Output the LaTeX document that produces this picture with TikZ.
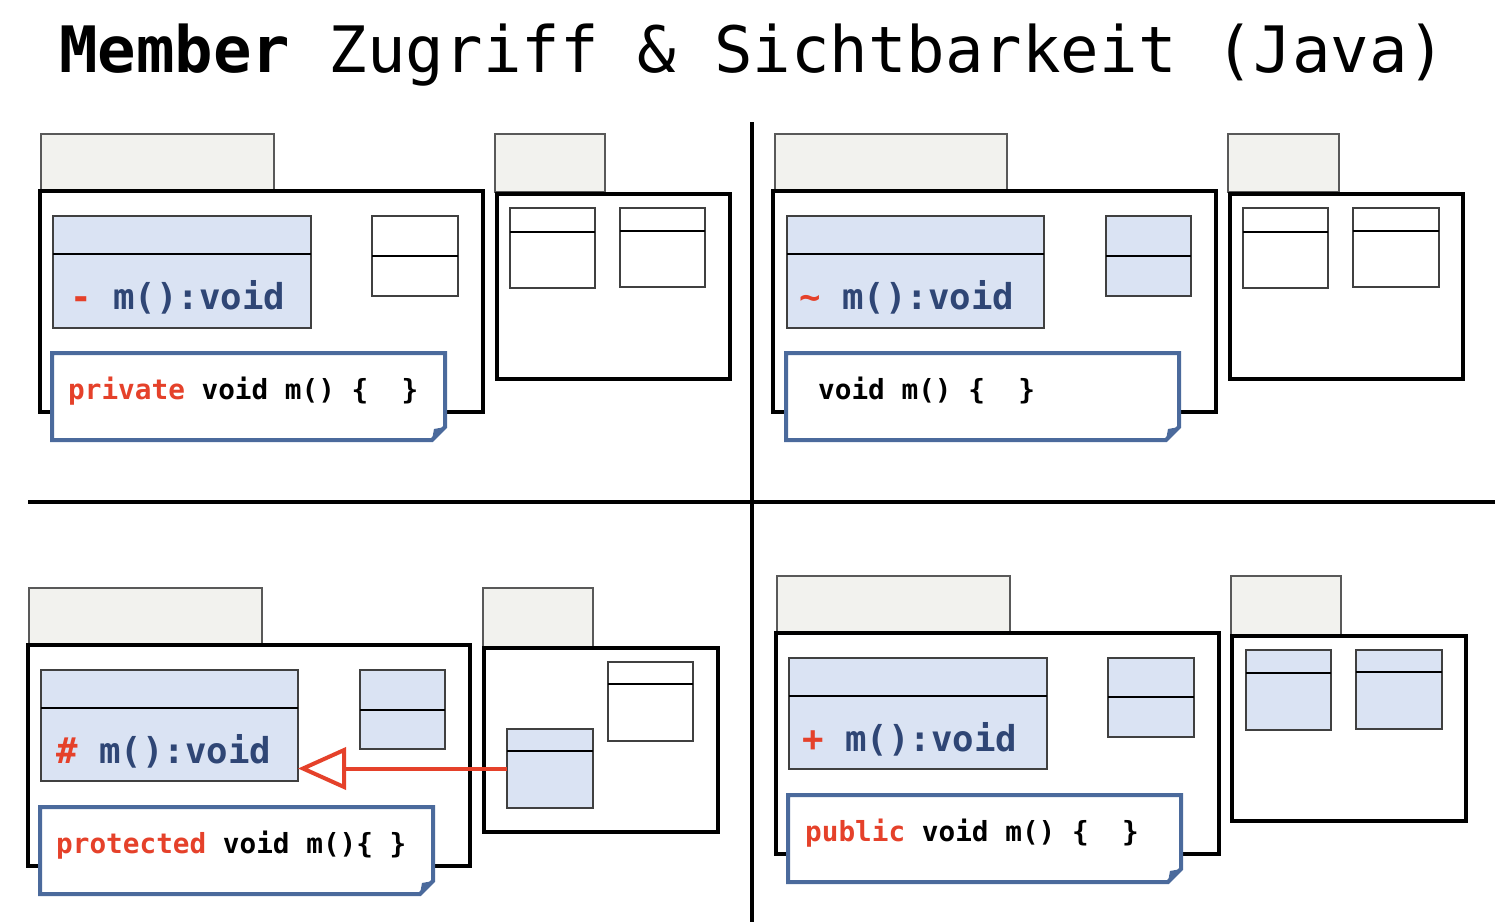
\documentclass[tikz,border=0pt]{standalone}
\usepackage{fontspec}
\setmonofont{DejaVu Sans Mono}
\usetikzlibrary{arrows.meta}
\definecolor{clsfill}{HTML}{DAE3F3}
\definecolor{tabfill}{HTML}{F2F2EE}
\definecolor{notecol}{HTML}{4B6A9C}
\definecolor{memcol}{HTML}{2F4675}
\definecolor{redc}{HTML}{E5412A}
\newcommand\umlcls[7]{%
  \node[#2, minimum width={(#5-#3)*1pt}, minimum height={(#6-#4)*1pt}, anchor=north west] (#1) at (#3,#4) {};
  \draw[divline] (#3,#7) -- (#5,#7);}
\newcommand\notebox[4]{%
  \draw[notestyle] (#1,#2) -- (#3,#2) -- (#3,#4-13) -- (#3-13,#4) -- (#1,#4) -- cycle;
  \fill[notecol] (#3-13,#4) -- (#3,#4-13) -- (#3-11,#4-11) -- cycle;}
\newcommand\pkgbox[8]{% tab x1 y1 x2 y2, box x1 y1 x2 y2
  \draw[tabstyle] (#1,#2) rectangle (#3,#4);
  \def\bx{#5}\def\by{#6}\def\bxx{#7}\def\byy{#8}%
  \draw[pkgstyle] (\bx,\by) rectangle (\bxx,\byy);}
\begin{document}
\begin{tikzpicture}[x=1pt,y=-1pt,
  tabstyle/.style={draw=black!65, fill=tabfill, line width=1.2pt},
  pkgstyle/.style={draw=black, line width=4pt, fill=white},
  cls/.style={draw=black!75, fill=clsfill, line width=1.3pt, inner sep=0pt, outer sep=0pt},
  wcls/.style={draw=black!75, fill=white, line width=1.3pt, inner sep=0pt, outer sep=0pt},
  divline/.style={draw=black, line width=2pt},
  notestyle/.style={draw=notecol, fill=white, line width=4pt, line join=miter},
  memtext/.style={anchor=base west, inner sep=0pt, font=\fontsize{35.7}{40}\ttfamily\bfseries, text=memcol},
  codetext/.style={anchor=base west, inner sep=0pt, font=\fontsize{27.7}{32}\ttfamily\bfseries, text=black},
  divider/.style={draw=black, line width=4.5pt},
  inh/.style={draw=redc, line width=4pt, -{Triangle[open, length=48pt, width=42pt, line join=miter]}}
]
\useasboundingbox (0,0) rectangle (1495,922);

% title
\node[anchor=base west, inner sep=0pt, font=\fontsize{64}{70}\ttfamily] (title) at (59,72) {\textbf{Member} Zugriff \& Sichtbarkeit (Java)};

% dividers
\draw[divider] (28,502) -- (1495,502);
\draw[divider] (752,122) -- (752,922);

% ---------- top left: private ----------
\pkgbox{41}{134}{274}{191}{40}{191}{483}{412}
\umlcls{tlc}{cls}{53}{216}{311}{328}{254}
\umlcls{tls}{wcls}{372}{216}{458}{296}{256}
\notebox{52}{353}{445}{440}
\node[memtext] (tlm) at (70,309) {\textcolor{redc}{-} m():void};
\node[codetext] (tlcode) at (68,399) {\textcolor{redc}{private} void m() \{~~\}};
\pkgbox{495}{134}{605}{192}{497}{194}{730}{379}
\umlcls{tla}{wcls}{510}{208}{595}{288}{232}
\umlcls{tlb}{wcls}{620}{208}{705}{287}{231}

% ---------- top right: package ----------
\pkgbox{775}{134}{1007}{191}{773}{191}{1216}{412}
\umlcls{trc}{cls}{787}{216}{1044}{328}{254}
\umlcls{trs}{cls}{1106}{216}{1191}{296}{256}
\notebox{786}{353}{1179}{440}
\node[memtext] (trm) at (799,309) {\textcolor{redc}{\char`\~} m():void};
\node[codetext] (trcode) at (818,399) {void m() \{~~\}};
\pkgbox{1228}{134}{1339}{192}{1230}{194}{1463}{379}
\umlcls{tra}{wcls}{1243}{208}{1328}{288}{232}
\umlcls{trb}{wcls}{1353}{208}{1439}{287}{231}

% ---------- bottom left: protected ----------
\pkgbox{29}{588}{262}{645}{28}{645}{470}{866}
\umlcls{blcls}{cls}{41}{670}{298}{781}{708}
\umlcls{bls}{cls}{360}{670}{445}{749}{710}
\notebox{40}{807}{433}{894}
\node[memtext] (blm) at (56,763) {\textcolor{redc}{\#} m():void};
\node[codetext] (blcode) at (56,853) {\textcolor{redc}{protected} void m()\{ \}};
\pkgbox{483}{588}{593}{647}{484}{648}{718}{832}
\umlcls{blc3}{wcls}{608}{662}{693}{741}{684}
\umlcls{blc2}{cls}{507}{729}{593}{808}{751}
\draw[inh] (blc2.west) -- (blc2.west -| blcls.east);

% ---------- bottom right: public ----------
\pkgbox{777}{576}{1010}{633}{776}{633}{1219}{854}
\umlcls{brc}{cls}{789}{658}{1047}{769}{696}
\umlcls{brs}{cls}{1108}{658}{1194}{737}{697}
\notebox{788}{795}{1181}{882}
\node[memtext] (brm) at (802,751) {\textcolor{redc}{+} m():void};
\node[codetext] (brcode) at (805,841) {\textcolor{redc}{public} void m() \{~~\}};
\pkgbox{1231}{576}{1341}{635}{1232}{636}{1466}{821}
\umlcls{bra}{cls}{1246}{650}{1331}{730}{673}
\umlcls{brb}{cls}{1356}{650}{1442}{729}{672}
\end{tikzpicture}
\end{document}
